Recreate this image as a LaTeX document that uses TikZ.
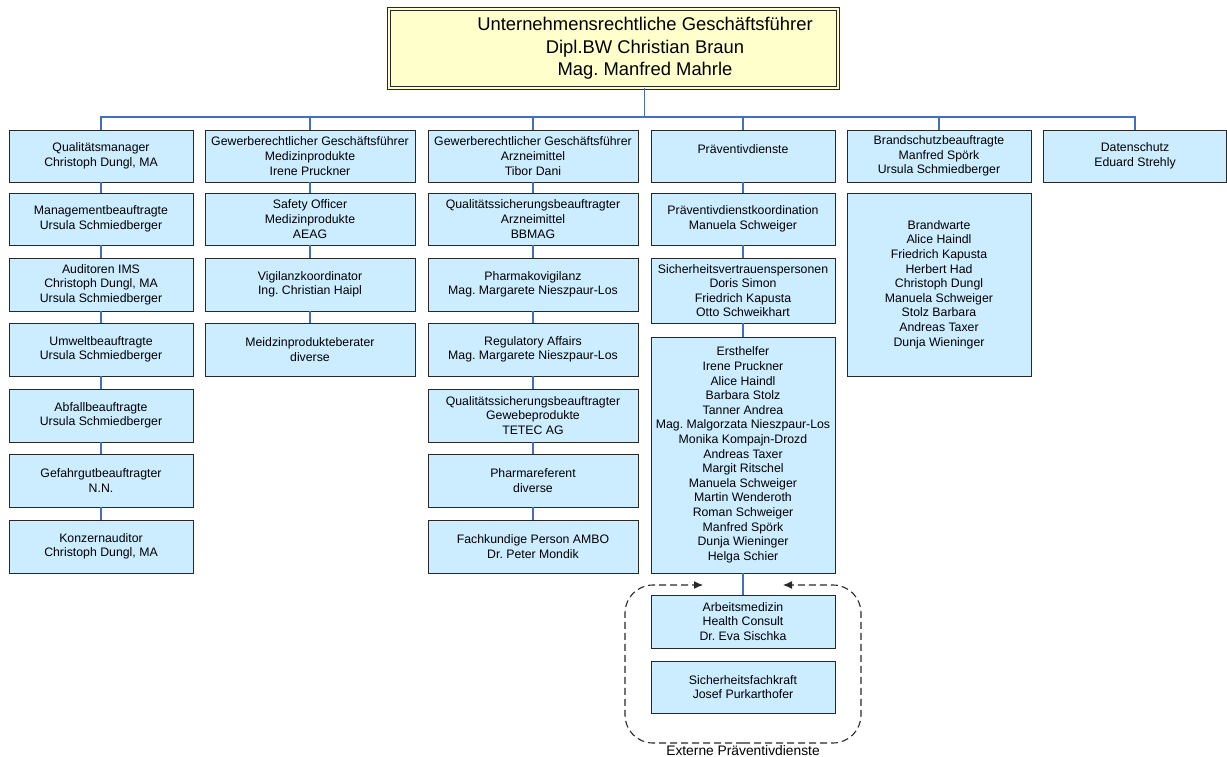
\documentclass[tikz,border=0pt]{standalone}
\usepackage{fontspec}
\setmainfont{Liberation Sans}
\frenchspacing
\usetikzlibrary{arrows.meta}
\definecolor{boxfill}{RGB}{204,236,255}
\definecolor{topfill}{RGB}{255,255,204}
\definecolor{boxline}{RGB}{40,40,40}
\definecolor{connblue}{RGB}{66,110,198}
\tikzset{
  orgbox/.style={draw=boxline, line width=0.9pt, fill=boxfill, inner sep=0pt, align=center,
    font=\fontsize{12.3}{14.6}\selectfont},
  topbox/.style={draw=boxline, line width=0.8pt, double=topfill, double distance=1.8pt, fill=topfill, inner sep=0pt},
  toptxt/.style={align=center, inner sep=0pt, font=\fontsize{18.4}{22.6}\selectfont},
  conn/.style={draw=connblue, line width=1.1pt},
  extline/.style={draw=boxline, line width=1.1pt, dash pattern=on 7pt off 4pt, rounded corners=28pt,
    -{Latex[length=9pt,width=8pt]}},
  extlabel/.style={inner sep=0pt, font=\fontsize{13.8}{16}\selectfont}
}
\newcommand{\orgnode}[6]{% name, cx, top, bottom, width, text
  \pgfmathsetmacro{\oh}{#4-#3}\pgfmathsetmacro{\oc}{(#3+#4)/2}
  \node[orgbox, minimum width=#5pt, minimum height=\oh pt] (#1) at (#2,\oc) {#6};}
\begin{document}
\begin{tikzpicture}[x=1pt,y=-1pt]
\useasboundingbox (0,0) rectangle (1227,756);
% top
\node[topbox, minimum width=449pt, minimum height=79pt] (top) at (613.5,48.5) {};
\node[toptxt] (toptext) at (645,48.5) {Unternehmensrechtliche Geschäftsführer\\Dipl.BW Christian Braun\\Mag. Manfred Mahrle};
\coordinate (bus) at (0,117);
% column 1
\orgnode{a1}{101}{130}{182}{184}{Qualitätsmanager\\Christoph Dungl, MA}
\orgnode{a2}{101}{193}{245}{184}{Managementbeauftragte\\Ursula Schmiedberger}
\orgnode{a3}{101}{258}{311}{184}{Auditoren IMS\\Christoph Dungl, MA\\Ursula Schmiedberger}
\orgnode{a4}{101}{323}{376}{184}{Umweltbeauftragte\\Ursula Schmiedberger}
\orgnode{a5}{101}{389}{442}{184}{Abfallbeauftragte\\Ursula Schmiedberger}
\orgnode{a6}{101}{454}{507}{184}{Gefahrgutbeauftragter\\N.N.}
\orgnode{a7}{101}{520}{573}{184}{Konzernauditor\\Christoph Dungl, MA}
% column 2
\orgnode{b1}{310}{130}{182}{210}{Gewerberechtlicher Geschäftsführer\\Medizinprodukte\\Irene Pruckner}
\orgnode{b2}{310}{193}{245}{210}{Safety Officer\\Medizinprodukte\\AEAG}
\orgnode{b3}{310}{258}{311}{210}{Vigilanzkoordinator\\Ing. Christian Haipl}
\orgnode{b4}{310}{323}{376}{210}{Meidzinprodukteberater\\diverse}
% column 3
\orgnode{c1}{533}{130}{182}{210}{Gewerberechtlicher Geschäftsführer\\Arzneimittel\\Tibor Dani}
\orgnode{c2}{533}{193}{245}{210}{Qualitätssicherungsbeauftragter\\Arzneimittel\\BBMAG}
\orgnode{c3}{533}{258}{311}{210}{Pharmakovigilanz\\Mag. Margarete Nieszpaur-Los}
\orgnode{c4}{533}{323}{376}{210}{Regulatory Affairs\\Mag. Margarete Nieszpaur-Los}
\orgnode{c5}{533}{389}{442}{210}{Qualitätssicherungsbeauftragter\\Gewebeprodukte\\TETEC AG}
\orgnode{c6}{533}{454}{507}{210}{Pharmareferent\\diverse}
\orgnode{c7}{533}{520}{573}{210}{Fachkundige Person AMBO\\Dr. Peter Mondik}
% column 4
\orgnode{d1}{743}{130}{182}{184}{Präventivdienste\\\mbox{}}
\orgnode{d2}{743}{193}{245}{184}{Präventivdienstkoordination\\Manuela Schweiger}
\orgnode{d3}{743}{258}{323}{184}{Sicherheitsvertrauenspersonen\\Doris Simon\\Friedrich Kapusta\\Otto Schweikhart}
\orgnode{d4}{743}{337}{573}{184}{Ersthelfer\\Irene Pruckner\\Alice Haindl\\Barbara Stolz\\Tanner Andrea\\Mag. Malgorzata Nieszpaur-Los\\Monika Kompajn-Drozd\\Andreas Taxer\\Margit Ritschel\\Manuela Schweiger\\Martin Wenderoth\\Roman Schweiger\\Manfred Spörk\\Dunja Wieninger\\Helga Schier}
\orgnode{d5}{743}{595}{648}{184}{Arbeitsmedizin\\Health Consult\\Dr. Eva Sischka}
\orgnode{d6}{743}{661}{713}{184}{Sicherheitsfachkraft\\Josef Purkarthofer}
% column 5
\orgnode{e1}{939}{130}{182}{184}{Brandschutzbeauftragte\\Manfred Spörk\\Ursula Schmiedberger}
\orgnode{e2}{939}{193}{376}{184}{Brandwarte\\Alice Haindl\\Friedrich Kapusta\\Herbert Had\\Christoph Dungl\\Manuela Schweiger\\Stolz Barbara\\Andreas Taxer\\Dunja Wieninger}
% column 6
\orgnode{f1}{1135}{130}{182}{183}{Datenschutz\\Eduard Strehly}
% connectors
\coordinate (topx) at (644.5,0);
\draw[conn] (topx |- top.south) -- (topx |- bus);
\draw[conn] (a1.north) -- (a1.north |- bus) -- (f1.north |- bus) -- (f1.north);
\foreach \n in {b1,c1,d1,e1} \draw[conn] (\n.north) -- (\n.north |- bus);
\foreach \u/\v in {a1/a2,a2/a3,a3/a4,a4/a5,a5/a6,a6/a7,b1/b2,b2/b3,b3/b4,c1/c2,c2/c3,c3/c4,c4/c5,c5/c6,c6/c7,d1/d2,d2/d3,d3/d4,d4/d5}
  \draw[conn] (\u.south) -- (\v.north);
% external group
\coordinate (extbl) at (625,743);
\coordinate (exttr) at (861,585);
\coordinate (extl) at (703,585);
\coordinate (extr) at (783,585);
\draw[extline] (d5.south |- extbl) -- (extbl) -- (extbl |- exttr) -- (extl);
\draw[extline] (d5.south |- extbl) -- (exttr |- extbl) -- (exttr) -- (extr);
\node[extlabel, anchor=base] (extlab) at (743,755.5) {Externe Präventivdienste};
\end{tikzpicture}
\end{document}
